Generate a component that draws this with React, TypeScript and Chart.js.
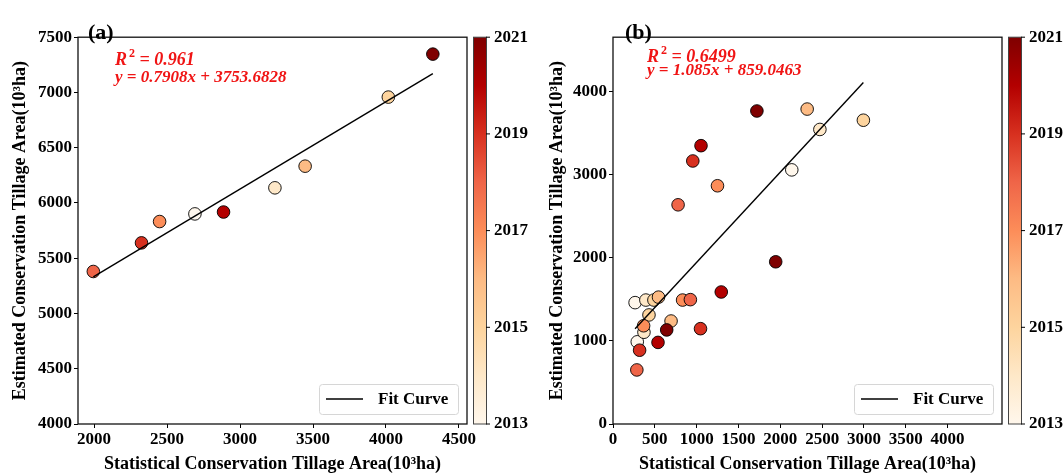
import React, { useEffect, useRef } from 'react';
import { Chart, registerables } from 'chart.js';

Chart.register(...registerables);

// ---------- shared ----------
const YEARS = [2013, 2014, 2015, 2016, 2017, 2018, 2019, 2020, 2021];
const ORRD = ['#fff7ec', '#fee8c8', '#fdd49e', '#fdbb84', '#fc8d59', '#ef6548', '#d7301f', '#b30000', '#7f0000'];
const CB_TICKS = [2013, 2015, 2017, 2019, 2021];
const X_TITLE = 'Statistical Conservation Tillage Area(10\u00B3ha)';
const Y_TITLE = 'Estimated Conservation Tillage Area(10\u00B3ha)';
const FIT_LABEL = 'Fit Curve';

// ---------- panel (a) ----------
const A_STAT = [2691, 3239, 4016, 3446, 2449, 1995, 2325, 2887, 4321];
const A_EST = [5901, 6137, 6958, 6333, 5832, 5380, 5639, 5918, 7347];
const A_YEAR = [2013, 2014, 2015, 2016, 2017, 2018, 2019, 2020, 2021];
const A_SLOPE = 0.7908;
const A_INTERCEPT = 3753.6828;
const A_R2 = '0.961';
const A_EQ = 'y = 0.7908x + 3753.6828';
const A_X_TICKS = [2000, 2500, 3000, 3500, 4000, 4500];
const A_Y_TICKS = [4000, 4500, 5000, 5500, 6000, 6500, 7000, 7500];

// ---------- panel (b) ----------
const B_STAT = [
  2137, 290, 264,
  2473, 370, 393,
  2993, 430, 489,
  2321, 694, 544,
  1249, 832, 366,
  778, 925, 285,
  954, 1046, 318,
  1052, 1294, 538,
  1720, 1945, 642,
];
const B_EST = [
  3055, 988, 1459,
  3541, 1103, 1490,
  3652, 1311, 1490,
  3786, 1238, 1525,
  2864, 1490, 1181,
  2635, 1495, 650,
  3162, 1146, 887,
  3346, 1587, 981,
  3763, 1950, 1131,
];
const B_YEAR = [
  2013, 2013, 2013,
  2014, 2014, 2014,
  2015, 2015, 2015,
  2016, 2016, 2016,
  2017, 2017, 2017,
  2018, 2018, 2018,
  2019, 2019, 2019,
  2020, 2020, 2020,
  2021, 2021, 2021,
];
const B_SLOPE = 1.085;
const B_INTERCEPT = 859.0463;
const B_R2 = '0.6499';
const B_EQ = 'y = 1.085x + 859.0463';
const B_X_TICKS = [0, 500, 1000, 1500, 2000, 2500, 3000, 3500, 4000];
const B_Y_TICKS = [0, 1000, 2000, 3000, 4000];

const FONT = "'Liberation Serif', 'Times New Roman', serif";

function hexToRgb(h: string) {
  return [parseInt(h.slice(1, 3), 16), parseInt(h.slice(3, 5), 16), parseInt(h.slice(5, 7), 16)];
}
function orrd(year: number) {
  const t = Math.max(0, Math.min(1, (year - YEARS[0]) / (YEARS[YEARS.length - 1] - YEARS[0])));
  const p = t * (ORRD.length - 1);
  const i = Math.min(ORRD.length - 2, Math.floor(p));
  const f = p - i;
  const a = hexToRgb(ORRD[i]);
  const b = hexToRgb(ORRD[i + 1]);
  const c = a.map((v, k) => Math.round(v + (b[k] - v) * f));
  return `rgb(${c[0]},${c[1]},${c[2]})`;
}

type Panel = {
  tag: string;
  stat: number[];
  est: number[];
  year: number[];
  slope: number;
  intercept: number;
  r2: string;
  eq: string;
  xMin: number;
  xMax: number;
  yMin: number;
  yMax: number;
  xTicks: number[];
  yTicks: number[];
  leftW: number;
  tagDx: number;
  textDx: number;
  r2Y: number;
  eqY: number;
  yTitlePad: number;
};

const CANVAS_W = 532;
const CANVAS_H = 475;
const PLOT_W = 389;
const TOP = 19;
const BOTTOM = 424;

const plain = (v: any) => String(v);

function makeConfig(p: Panel): any {
  const pts = p.stat.map((x, i) => ({ x, y: p.est[i] }));
  const colors = p.year.map((y) => orrd(y));
  const xLo = Math.min(...p.stat);
  const xHi = Math.max(...p.stat);
  const fit = [xLo, xHi].map((x) => ({ x, y: p.slope * x + p.intercept }));
  const rightW = CANVAS_W - p.leftW - PLOT_W;

  const tickFont = { family: FONT, size: 17, weight: 'bold' as const };
  const titleFont = { family: FONT, size: 18, weight: 'bold' as const, lineHeight: 1.2 };

  const overlay = {
    id: 'overlay' + p.tag,
    afterDraw(chart: any) {
      const ctx = chart.ctx as CanvasRenderingContext2D;
      const ca = chart.chartArea;
      ctx.save();
      // frame
      ctx.strokeStyle = '#111';
      ctx.lineWidth = 1.3;
      ctx.strokeRect(ca.left, ca.top, ca.right - ca.left, ca.bottom - ca.top);

      // colorbar
      const cb = chart.scales.cb;
      const yTop = cb.getPixelForValue(YEARS[YEARS.length - 1]);
      const yBot = cb.getPixelForValue(YEARS[0]);
      const cx = ca.right + 6;
      const cw = 13;
      const g = ctx.createLinearGradient(0, yBot, 0, yTop);
      ORRD.forEach((c, i) => g.addColorStop(i / (ORRD.length - 1), c));
      ctx.fillStyle = g;
      ctx.fillRect(cx, yTop, cw, yBot - yTop);
      ctx.strokeStyle = '#444';
      ctx.lineWidth = 1;
      ctx.strokeRect(cx + 0.5, yTop, cw, yBot - yTop);
      ctx.strokeStyle = '#000';
      ctx.beginPath();
      cb.ticks.forEach((t: any) => {
        const ty = cb.getPixelForValue(t.value);
        ctx.moveTo(cx + cw, ty);
        ctx.lineTo(cx + cw + 4, ty);
      });
      ctx.stroke();

      // panel tag
      ctx.fillStyle = '#000';
      ctx.textBaseline = 'middle';
      ctx.textAlign = 'left';
      ctx.font = `bold 22px ${FONT}`;
      ctx.fillText(`(${p.tag})`, ca.left + p.tagDx, 33);

      // R2 + equation
      ctx.fillStyle = '#f01414';
      const tx = ca.left + p.textDx;
      ctx.font = `italic bold 18px ${FONT}`;
      ctx.fillText('R', tx, p.r2Y);
      const rw = ctx.measureText('R').width;
      ctx.font = `bold 12px ${FONT}`;
      ctx.fillText('2', tx + rw + 2, p.r2Y - 6);
      const sw = ctx.measureText('2').width;
      ctx.font = `italic bold 18px ${FONT}`;
      ctx.fillText(` = ${p.r2}`, tx + rw + 2 + sw, p.r2Y);
      ctx.font = `italic bold 17px ${FONT}`;
      ctx.fillText(p.eq, tx, p.eqY);

      // legend
      const lw = 139;
      const lh = 30;
      const lx = ca.right - 9 - lw;
      const ly = ca.bottom - 10 - lh;
      ctx.fillStyle = 'rgba(255,255,255,0.85)';
      ctx.strokeStyle = '#d6d6d6';
      ctx.lineWidth = 1;
      ctx.beginPath();
      (ctx as any).roundRect(lx + 0.5, ly + 0.5, lw, lh, 3);
      ctx.fill();
      ctx.stroke();
      const lcy = ly + lh / 2;
      ctx.strokeStyle = '#000';
      ctx.lineWidth = 1.5;
      ctx.beginPath();
      ctx.moveTo(lx + 7, lcy);
      ctx.lineTo(lx + 44, lcy);
      ctx.stroke();
      ctx.fillStyle = '#000';
      ctx.font = `bold 17px ${FONT}`;
      ctx.fillText(chart.data.datasets[0].label, lx + 59, lcy + 1);
      ctx.restore();
    },
  };

  return {
    type: 'scatter',
    data: {
      datasets: [
        {
          type: 'line',
          label: FIT_LABEL,
          data: fit,
          borderColor: '#000',
          borderWidth: 1.4,
          pointRadius: 0,
          showLine: true,
          fill: false,
          order: 0,
        },
        {
          label: 'points',
          data: pts,
          pointBackgroundColor: colors,
          backgroundColor: colors,
          pointBorderColor: '#000',
          borderColor: '#000',
          pointBorderWidth: 0.9,
          pointRadius: 6.3,
          showLine: false,
          order: 1,
        },
      ],
    },
    options: {
      responsive: false,
      animation: false,
      events: [],
      layout: { padding: { top: TOP, left: 0, right: 0, bottom: 0 } },
      plugins: { legend: { display: false }, tooltip: { enabled: false } },
      scales: {
        x: {
          type: 'linear',
          position: 'bottom',
          min: p.xMin,
          max: p.xMax,
          afterBuildTicks: (s: any) => {
            s.ticks = p.xTicks.map((v) => ({ value: v }));
          },
          afterFit: (s: any) => {
            s.height = CANVAS_H - BOTTOM;
          },
          ticks: { font: tickFont, color: '#000', padding: 1, autoSkip: false, maxRotation: 0, callback: plain },
          grid: { display: true, drawOnChartArea: false, drawTicks: true, tickLength: 4, color: '#000', lineWidth: 1 },
          border: { display: false },
          title: { display: true, text: X_TITLE, font: titleFont, color: '#000', padding: { top: 0, bottom: 0 } },
        },
        y: {
          type: 'linear',
          position: 'left',
          min: p.yMin,
          max: p.yMax,
          afterBuildTicks: (s: any) => {
            s.ticks = p.yTicks.map((v) => ({ value: v }));
          },
          afterFit: (s: any) => {
            s.width = p.leftW;
          },
          ticks: { font: tickFont, color: '#000', padding: 2, autoSkip: false, callback: plain },
          grid: { display: true, drawOnChartArea: false, drawTicks: true, tickLength: 4, color: '#000', lineWidth: 1 },
          border: { display: false },
          title: { display: true, text: Y_TITLE, font: titleFont, color: '#000', padding: { top: p.yTitlePad, bottom: 0 } },
        },
        cb: {
          type: 'linear',
          position: 'right',
          min: YEARS[0],
          max: YEARS[YEARS.length - 1],
          afterBuildTicks: (s: any) => {
            s.ticks = CB_TICKS.map((v) => ({ value: v }));
          },
          afterFit: (s: any) => {
            s.width = rightW;
          },
          ticks: { font: tickFont, color: '#000', padding: 27, autoSkip: false, callback: plain },
          grid: { display: false, drawTicks: false },
          border: { display: false },
        },
      },
    },
    plugins: [overlay],
  };
}

const PANEL_A: Panel = {
  tag: 'a',
  stat: A_STAT,
  est: A_EST,
  year: A_YEAR,
  slope: A_SLOPE,
  intercept: A_INTERCEPT,
  r2: A_R2,
  eq: A_EQ,
  xMin: 1890,
  xMax: 4555,
  yMin: 4000,
  yMax: 7500,
  xTicks: A_X_TICKS,
  yTicks: A_Y_TICKS,
  leftW: 78,
  tagDx: 10,
  textDx: 37,
  r2Y: 60,
  eqY: 78,
  yTitlePad: 10,
};

const PANEL_B: Panel = {
  tag: 'b',
  stat: B_STAT,
  est: B_EST,
  year: B_YEAR,
  slope: B_SLOPE,
  intercept: B_INTERCEPT,
  r2: B_R2,
  eq: B_EQ,
  xMin: 0,
  xMax: 4650,
  yMin: 0,
  yMax: 4650,
  xTicks: B_X_TICKS,
  yTicks: B_Y_TICKS,
  leftW: 81,
  tagDx: 12,
  textDx: 34,
  r2Y: 57,
  eqY: 71,
  yTitlePad: 15,
};

function PanelChart({ panel, left }: { panel: Panel; left: number }) {
  const ref = useRef<HTMLCanvasElement | null>(null);
  useEffect(() => {
    if (!ref.current) return;
    const chart = new Chart(ref.current, makeConfig(panel));
    return () => chart.destroy();
  }, [panel]);
  return (
    <canvas
      ref={ref}
      width={CANVAS_W}
      height={CANVAS_H}
      style={{ position: 'absolute', left, top: 0, width: CANVAS_W, height: CANVAS_H }}
    />
  );
}

export default function App() {
  return (
    <div style={{ position: 'fixed', left: 0, top: 0, width: 1064, height: 475, background: '#fff' }}>
      <PanelChart panel={PANEL_A} left={0} />
      <PanelChart panel={PANEL_B} left={532} />
    </div>
  );
}
